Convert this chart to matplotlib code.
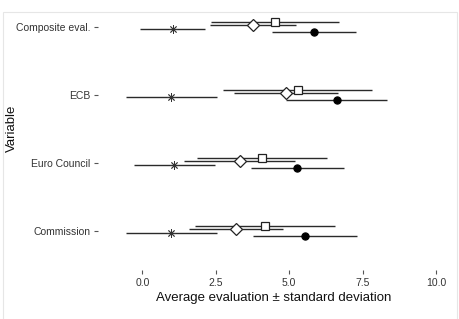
import matplotlib
matplotlib.use("Agg")
import matplotlib.pyplot as plt
from matplotlib.patches import Rectangle
import numpy as np

plt.rcParams['font.family'] = ['Liberation Sans', 'DejaVu Sans']

categories = ["Commission", "Euro Council", "ECB", "Composite eval."]

# series (bottom-to-top order in each category: circle, star, diamond, square)
square_mean = [4.18, 4.08, 5.29, 4.52]
square_sd = [2.37, 2.21, 2.54, 2.17]
diamond_mean = [3.20, 3.31, 4.90, 3.77]
diamond_sd = [1.60, 1.88, 1.77, 1.47]
star_mean = [0.99, 1.09, 0.99, 1.03]
star_sd = [1.56, 1.39, 1.56, 1.10]
circle_mean = [5.55, 5.28, 6.62, 5.85]
circle_sd = [1.77, 1.58, 1.72, 1.43]

x_ticks = [0.0, 2.5, 5.0, 7.5, 10.0]
x_ticklabels = ["0.0", "2.5", "5.0", "7.5", "10.0"]

W, H = 460, 319
fig = plt.figure(figsize=(W / 100, H / 100), dpi=100)
fig.patch.set_facecolor("white")

# light frame
fig.add_artist(Rectangle((3 / W, -0.05), 454 / W, 1.05 - 12 / H,
                         transform=fig.transFigure, fill=False,
                         edgecolor="#e6e6e6", linewidth=0.8))

left, right, top, bottom = 98, 450, 12, 270
ax = fig.add_axes([left / W, 1 - bottom / H, (right - left) / W, (bottom - top) / H])
ax.set_facecolor("none")

ypos = np.arange(len(categories))
series = [
    (square_mean, square_sd, 0.074, dict(marker="s", mfc="white", mec="#222222", ms=5.6, mew=0.9)),
    (diamond_mean, diamond_sd, 0.025, dict(marker="D", mfc="white", mec="#222222", ms=5.8, mew=0.9)),
    (star_mean, star_sd, -0.025, dict(marker=(8, 2, 0), mfc="#333333", mec="#333333", ms=6.0, mew=0.6)),
    (circle_mean, circle_sd, -0.074, dict(marker="o", mfc="black", mec="black", ms=5.2, mew=0.8)),
]
for mean, sd, off, mk in series:
    mean = np.asarray(mean)
    sd = np.asarray(sd)
    y = ypos + off
    ax.hlines(y, mean - sd, mean + sd, color="#2a2a2a", linewidth=1.0, zorder=2)
    ax.plot(mean, y, linestyle="none", zorder=3, **mk)

ax.set_xlim(-1.51, 10.48)
ax.set_ylim(-39 / 68, 3 + 15 / 68)
ax.set_yticks(ypos)
ax.set_yticklabels(categories)
ax.set_xticks(x_ticks)
ax.set_xticklabels(x_ticklabels)
for s in ax.spines.values():
    s.set_visible(False)
ax.tick_params(axis="both", length=3, width=0.8, color="#555555",
               labelsize=7.5, labelcolor="#333333", pad=2.5)
ax.set_xlabel("Average evaluation ± standard deviation", fontsize=9.5, color="#111111", labelpad=3)

fig.text(12 / W, 1 - 128 / H, "Variable", rotation=90, ha="center", va="center",
         fontsize=9.5, color="#111111")

fig.savefig("out.png", dpi=100, facecolor="white")
